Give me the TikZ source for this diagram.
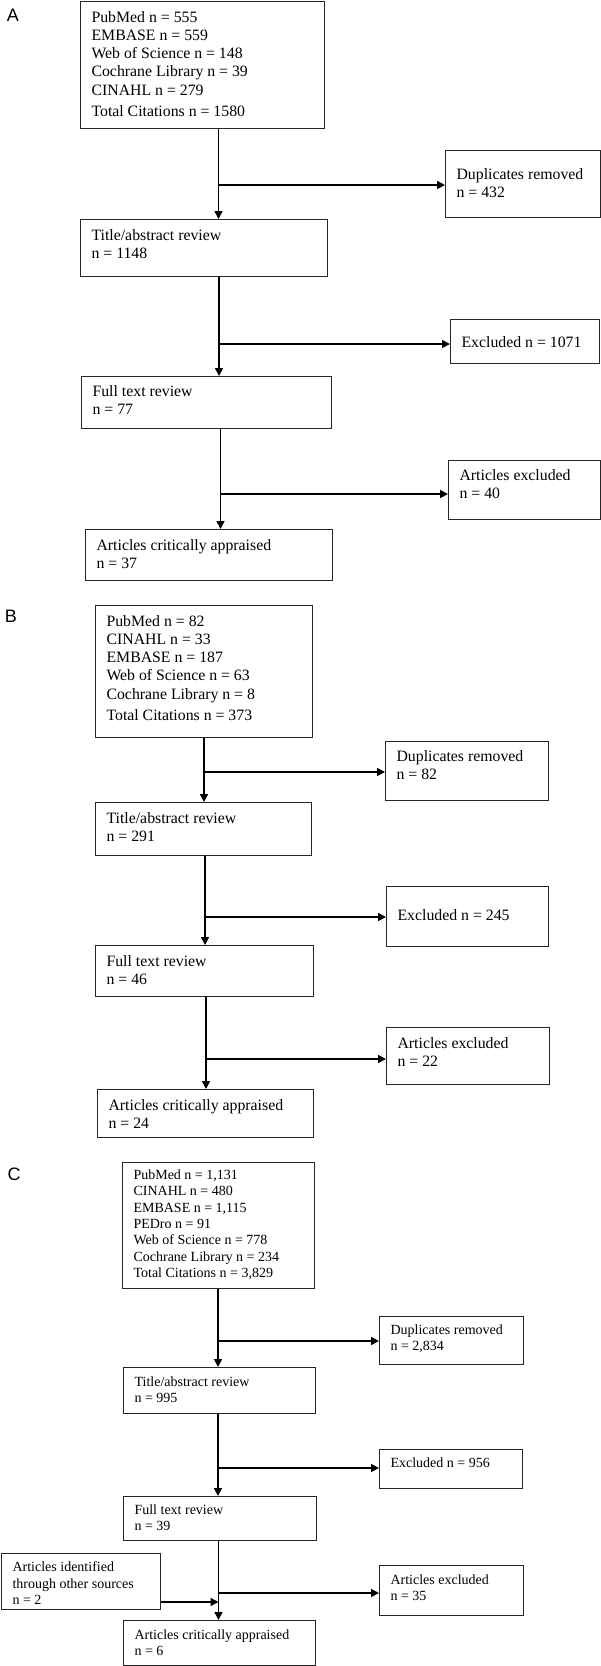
\documentclass[tikz,border=0pt]{standalone}
\usepackage{fontspec}
\setmainfont{Liberation Serif}
\newfontfamily\panelfont{Liberation Sans}
\usetikzlibrary{arrows.meta}
% box text: width, height, top pad, lines
\newcommand{\boxtext}[4]{\parbox[c][#2pt][t]{\dimexpr#1pt-22pt\relax}{\vspace*{#3pt}#4}}

\tikzset{
  flowbox/.style={draw=black!85, line width=1.1pt, anchor=north west, inner xsep=11pt, inner ysep=0pt},
  flowarrow/.style={line width=1.6pt, -{Triangle[length=8pt,width=8pt]}},
  panellabel/.style={font=\panelfont\fontsize{18}{18}\selectfont}
}

\begin{document}
\begin{tikzpicture}[x=1pt, y=-1pt]
  \useasboundingbox (0,0) rectangle (601,1666);

  % panel A
  \begin{scope}[font=\fontsize{15.8}{18.2}\selectfont]
    \node[panellabel] (labA) at (13,15) {A};
    \node[flowbox] (a1) at (80,1) {\boxtext{244}{127}{9.7}{PubMed n = 555\\EMBASE n = 559\\Web of Science n = 148\\Cochrane Library n = 39\\CINAHL n = 279\\[3pt]Total Citations n = 1580}};
    \node[flowbox] (a2) at (445,150) {\boxtext{155}{67}{17.7}{Duplicates removed\\n = 432}};
    \node[flowbox] (a3) at (80,219) {\boxtext{247}{57}{9.7}{Title/abstract review\\n = 1148}};
    \node[flowbox] (a4) at (450,319) {\boxtext{149}{44}{16.7}{Excluded n = 1071}};
    \node[flowbox] (a5) at (81,376) {\boxtext{250}{52}{8.7}{Full text review\\n = 77}};
    \node[flowbox] (a6) at (448,460) {\boxtext{152}{59}{8.7}{Articles excluded\\n = 40}};
    \node[flowbox] (a7) at (85,529) {\boxtext{247}{51}{9.7}{Articles critically appraised\\n = 37}};
    \coordinate (ab1) at (218.5,185);
    \coordinate (ab2) at (219,344);
    \coordinate (ab3) at (220.5,494);
    \draw[flowarrow] (a1.south -| ab1) -- (a3.north -| ab1);
    \draw[flowarrow] (ab1) -- (ab1 -| a2.west);
    \draw[flowarrow] (a3.south -| ab2) -- (a5.north -| ab2);
    \draw[flowarrow] (ab2) -- (ab2 -| a4.west);
    \draw[flowarrow] (a5.south -| ab3) -- (a7.north -| ab3);
    \draw[flowarrow] (ab3) -- (ab3 -| a6.west);
  \end{scope}

  % panel B
  \begin{scope}[font=\fontsize{15.8}{18.2}\selectfont]
    \node[panellabel] (labB) at (11,616) {B};
    \node[flowbox] (b1) at (95,605) {\boxtext{217}{132}{9.7}{PubMed n = 82\\CINAHL n = 33\\EMBASE n = 187\\Web of Science n = 63\\Cochrane Library n = 8\\[3.5pt]Total Citations n = 373}};
    \node[flowbox] (b2) at (385,741) {\boxtext{163}{59}{8.7}{Duplicates removed\\n = 82}};
    \node[flowbox] (b3) at (95,802) {\boxtext{216}{53}{9.7}{Title/abstract review\\n = 291}};
    \node[flowbox] (b4) at (386,886) {\boxtext{162}{60}{22.7}{Excluded n = 245}};
    \node[flowbox] (b5) at (95,945) {\boxtext{218}{51}{9.7}{Full text review\\n = 46}};
    \node[flowbox] (b6) at (386,1027) {\boxtext{163}{57}{9.7}{Articles excluded\\n = 22}};
    \node[flowbox] (b7) at (97,1089) {\boxtext{216}{48}{9.7}{Articles critically appraised\\n = 24}};
    \coordinate (bb1) at (204,772);
    \coordinate (bb2) at (205,917);
    \coordinate (bb3) at (206,1059);
    \draw[flowarrow] (b1.south -| bb1) -- (b3.north -| bb1);
    \draw[flowarrow] (bb1) -- (bb1 -| b2.west);
    \draw[flowarrow] (b3.south -| bb2) -- (b5.north -| bb2);
    \draw[flowarrow] (bb2) -- (bb2 -| b4.west);
    \draw[flowarrow] (b5.south -| bb3) -- (b7.north -| bb3);
    \draw[flowarrow] (bb3) -- (bb3 -| b6.west);
  \end{scope}

  % panel C
  \begin{scope}[font=\fontsize{14}{16.3}\selectfont]
    \node[panellabel] (labC) at (14,1174) {C};
    \node[flowbox] (c1) at (122,1162) {\boxtext{192}{126}{7.4}{PubMed n = 1,131\\CINAHL n = 480\\EMBASE n = 1,115\\PEDro n = 91\\Web of Science n = 778\\Cochrane Library n = 234\\Total Citations n = 3,829}};
    \node[flowbox] (c2) at (379,1316) {\boxtext{144}{48}{8.4}{Duplicates removed\\n = 2,834}};
    \node[flowbox] (c3) at (123,1367) {\boxtext{192}{46}{9.4}{Title/abstract review\\n = 995}};
    \node[flowbox] (c4) at (379,1449) {\boxtext{143}{39}{8.4}{Excluded n = 956}};
    \node[flowbox] (c5) at (123,1496) {\boxtext{193}{44}{8.4}{Full text review\\n = 39}};
    \node[flowbox] (c6) at (379,1565) {\boxtext{144}{50}{9.4}{Articles excluded\\n = 35}};
    \node[flowbox] (c7) at (123,1620) {\boxtext{192}{45}{9.4}{Articles critically appraised\\n = 6}};
    \node[flowbox] (c8) at (1,1553) {\boxtext{159}{56}{8.4}{Articles identified\\through other sources\\n = 2}};
    \coordinate (cb1) at (218,1341);
    \coordinate (cb2) at (218,1468);
    \coordinate (cb3) at (218.5,1593);
    \coordinate (cb4) at (218.5,1602);
    \draw[flowarrow] (c1.south -| cb1) -- (c3.north -| cb1);
    \draw[flowarrow] (cb1) -- (cb1 -| c2.west);
    \draw[flowarrow] (c3.south -| cb2) -- (c5.north -| cb2);
    \draw[flowarrow] (cb2) -- (cb2 -| c4.west);
    \draw[flowarrow] (c5.south -| cb3) -- (c7.north -| cb3);
    \draw[flowarrow] (cb3) -- (cb3 -| c6.west);
    \draw[flowarrow] (c8.east |- cb4) -- (cb4);
  \end{scope}
\end{tikzpicture}
\end{document}
